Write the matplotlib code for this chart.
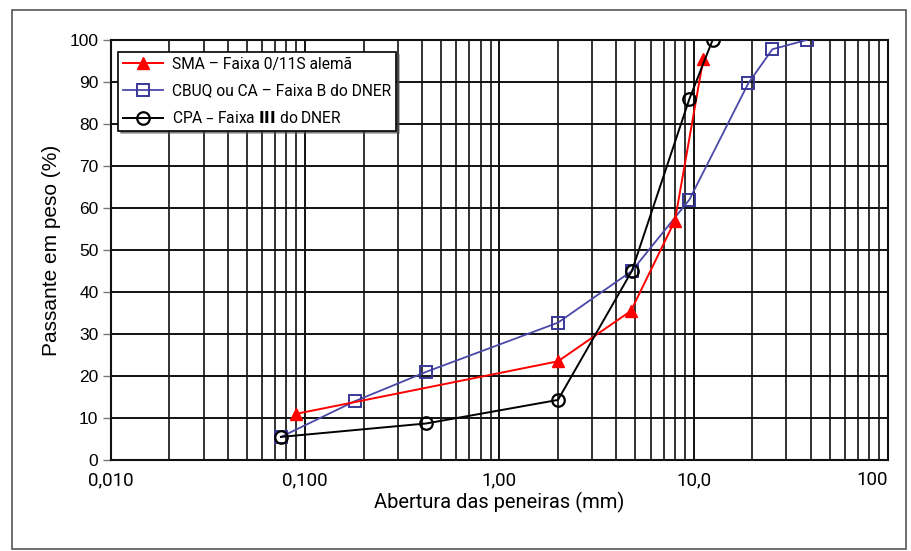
import numpy as np
import matplotlib
matplotlib.use('Agg')
import matplotlib.pyplot as plt
from matplotlib.patches import Rectangle
from matplotlib.ticker import LogLocator, FixedLocator, FixedFormatter, NullFormatter

# sieve openings (mm) and percent passing
sma_x = [0.09, 2.0, 4.75, 8.0, 11.2]
sma_y = [11, 23.5, 35.5, 57, 95.5]

cbuq_x = [0.075, 0.18, 0.42, 2.0, 4.8, 9.5, 19.1, 25.4, 38.1]
cbuq_y = [5.5, 14, 21, 32.7, 45, 62, 89.7, 97.8, 100]

cpa_x = [0.075, 0.42, 2.0, 4.8, 9.5, 12.5]
cpa_y = [5.5, 8.7, 14.3, 45, 86, 100]

xtick_vals = [0.01, 0.1, 1, 10, 100]
xtick_labels = ['0,010', '0,100', '1,00', '10,0', '100']

LABELS = {
    'sma': 'SMA – Faixa 0/11S alemã',
    'cbuq': 'CBUQ ou CA – Faixa B do DNER',
    'cpa': 'CPA – Faixa $\\mathbf{III}$ do DNER',
}

NARROW = ['Roboto', 'DejaVu Sans']
ARIAL = ['Liberation Sans', 'DejaVu Sans']

fig = plt.figure(figsize=(9.12, 5.51), dpi=100)
ax = fig.add_axes([111 / 912, 1 - 460 / 551, 777 / 912, 420 / 551])

# outer frame
fig.patches.append(Rectangle((12 / 912, 1 - 549 / 551), 894 / 912, 539 / 551,
                             transform=fig.transFigure, fill=False,
                             edgecolor='#555555', linewidth=1.2))

ax.plot(sma_x, sma_y, color='#ff0000', marker='^', markersize=9,
        markerfacecolor='#ff0000', markeredgecolor='#ff0000',
        linewidth=1.4, label=LABELS['sma'], zorder=4)
ax.plot(cbuq_x, cbuq_y, color='#4a48a8', marker='s', markersize=8,
        markerfacecolor='none', markeredgecolor='#3a3898', markeredgewidth=1.4,
        linewidth=1.3, label=LABELS['cbuq'], zorder=3)
ax.plot(cpa_x, cpa_y, color='black', marker='o', markersize=9,
        markerfacecolor='none', markeredgecolor='black', markeredgewidth=1.6,
        linewidth=1.4, label=LABELS['cpa'], zorder=5)

ax.set_xscale('log')
ax.set_xlim(0.01, 100)
ax.set_ylim(0, 100)

ax.xaxis.set_major_locator(FixedLocator(xtick_vals))
ax.xaxis.set_major_formatter(FixedFormatter(xtick_labels))
ax.xaxis.set_minor_locator(LogLocator(base=10, subs=np.arange(2, 10)))
ax.xaxis.set_minor_formatter(NullFormatter())
ax.set_yticks(np.arange(0, 101, 10))

ax.grid(True, which='major', axis='both', color='#111111', linewidth=1.4)
ax.grid(True, which='minor', axis='x', color='#222222', linewidth=1.3)
ax.set_axisbelow(True)

ax.tick_params(axis='x', which='both', length=0, pad=8)
ax.tick_params(axis='y', length=6, width=1, color='#777777', pad=3)
xlabs = ax.get_xticklabels()
for lab in xlabs:
    lab.set_family(NARROW)
    lab.set_fontsize(13.5)
xlabs[-1].set_horizontalalignment('right')
xlabs[-1].set_x(100)
for lab in ax.get_yticklabels():
    lab.set_family(ARIAL)
    lab.set_fontsize(12.5)

for side in ['top', 'right', 'left', 'bottom']:
    ax.spines[side].set_linewidth(1.5)
    ax.spines[side].set_color('#111111')

ax.set_xlabel('Abertura das peneiras (mm)', family=NARROW, fontsize=14.5, labelpad=2)
ax.set_ylabel('Passante em peso (%)', family=ARIAL, fontsize=15, labelpad=6)

leg = ax.legend(loc='upper left', bbox_to_anchor=(7 / 777, 1 - 12 / 420),
                prop={'family': NARROW, 'size': 11.2}, fancybox=False,
                shadow=True, framealpha=1, edgecolor='black',
                handlelength=2.6, handletextpad=0.6, borderpad=0.3,
                labelspacing=0.75, borderaxespad=0)
leg.get_frame().set_linewidth(1.2)

fig.savefig('out.png', dpi=100)
